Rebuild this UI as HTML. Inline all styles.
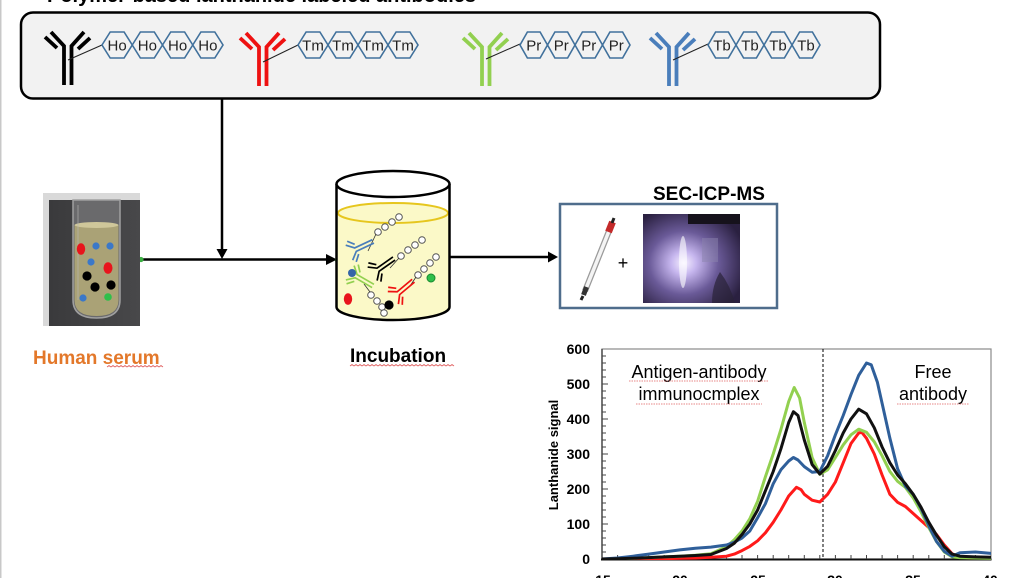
<!DOCTYPE html>
<html>
<head>
<meta charset="utf-8">
<style>
  html,body{margin:0;padding:0;background:#fff;}
  body{width:1028px;height:578px;overflow:hidden;}
  svg{display:block;}
</style>
</head>
<body>
<svg width="1028" height="578" viewBox="0 0 1028 578" xmlns="http://www.w3.org/2000/svg" font-family="'Liberation Sans', Arial, sans-serif">
  <defs>
    <radialGradient id="glow" cx="0.42" cy="0.55" r="0.65">
      <stop offset="0" stop-color="#f6f0ff"/>
      <stop offset="0.2" stop-color="#c6b6ee"/>
      <stop offset="0.55" stop-color="#6a5a98"/>
      <stop offset="1" stop-color="#2a2040"/>
    </radialGradient>
    <linearGradient id="bgdark" x1="0" y1="0" x2="1" y2="0">
      <stop offset="0" stop-color="#3a3a3c"/>
      <stop offset="1" stop-color="#48484a"/>
    </linearGradient>
    <clipPath id="plotclip"><rect x="602" y="349" width="389" height="211"/></clipPath>
  </defs>

  <!-- left page edge -->
  <rect x="0" y="0" width="1.5" height="578" fill="#c8c8c8"/>

  <!-- title (cut off at top) -->
  <text x="47" y="2" font-size="20" font-weight="bold" fill="#000">Polymer-based lanthanide labeled antibodies</text>

  <!-- top rounded box -->
  <rect x="21" y="12.5" width="859" height="86" rx="12" ry="12" fill="#f2f2f2" stroke="#000" stroke-width="2.5"/>

  <!-- Black antibody + Ho chain -->
  <g stroke="#000" stroke-width="3.8" fill="none" transform="translate(45,30)">
    <polyline points="19,55 19,16 6,2"/>
    <polyline points="26.5,55 26.5,16 39,2"/>
    <line x1="0" y1="7" x2="12" y2="18"/>
    <line x1="45" y1="8" x2="33" y2="19"/>
  </g>
  <line x1="68" y1="60" x2="102" y2="45" stroke="#222" stroke-width="1"/>
  <g stroke="#41719c" stroke-width="1.6" fill="#f2f2f2">
    <polygon points="102,45 110.2,32 124.1,32 132.25,45 124.1,58 110.2,58"/>
    <polygon points="132.25,45 140.4,32 154.3,32 162.5,45 154.3,58 140.4,58"/>
    <polygon points="162.5,45 170.7,32 184.6,32 192.75,45 184.6,58 170.7,58"/>
    <polygon points="192.75,45 200.9,32 214.8,32 223,45 214.8,58 200.9,58"/>
  </g>
  <g font-size="15" fill="#222" text-anchor="middle">
    <text x="117.1" y="50.5">Ho</text><text x="147.4" y="50.5">Ho</text><text x="177.6" y="50.5">Ho</text><text x="207.9" y="50.5">Ho</text>
  </g>

  <!-- Red antibody + Tm chain -->
  <g stroke="#ee1111" stroke-width="3.8" fill="none" transform="translate(240,31)">
    <polyline points="19,55 19,16 6,2"/>
    <polyline points="26.5,55 26.5,16 39,2"/>
    <line x1="0" y1="7" x2="12" y2="18"/>
    <line x1="45" y1="8" x2="33" y2="19"/>
  </g>
  <line x1="263" y1="62" x2="298" y2="45" stroke="#222" stroke-width="1"/>
  <g stroke="#41719c" stroke-width="1.6" fill="#f2f2f2">
    <polygon points="298,45 306.1,32 319.9,32 328,45 319.9,58 306.1,58"/>
    <polygon points="328,45 336.1,32 349.9,32 358,45 349.9,58 336.1,58"/>
    <polygon points="358,45 366.1,32 379.9,32 388,45 379.9,58 366.1,58"/>
    <polygon points="388,45 396.1,32 409.9,32 418,45 409.9,58 396.1,58"/>
  </g>
  <g font-size="15" fill="#222" text-anchor="middle">
    <text x="313" y="50.5">Tm</text><text x="343" y="50.5">Tm</text><text x="373" y="50.5">Tm</text><text x="403" y="50.5">Tm</text>
  </g>

  <!-- Green antibody + Pr chain -->
  <g stroke="#92d050" stroke-width="3.8" fill="none" transform="translate(463,31)">
    <polyline points="19,55 19,16 6,2"/>
    <polyline points="26.5,55 26.5,16 39,2"/>
    <line x1="0" y1="7" x2="12" y2="18"/>
    <line x1="45" y1="8" x2="33" y2="19"/>
  </g>
  <line x1="486" y1="59" x2="520" y2="44" stroke="#222" stroke-width="1"/>
  <g stroke="#41719c" stroke-width="1.6" fill="#f2f2f2">
    <polygon points="520,45 527.4,32 540.1,32 547.5,45 540.1,58 527.4,58"/>
    <polygon points="547.5,45 554.9,32 567.6,32 575,45 567.6,58 554.9,58"/>
    <polygon points="575,45 582.4,32 595.1,32 602.5,45 595.1,58 582.4,58"/>
    <polygon points="602.5,45 609.9,32 622.6,32 630,45 622.6,58 609.9,58"/>
  </g>
  <g font-size="15" fill="#222" text-anchor="middle">
    <text x="533.75" y="50.5">Pr</text><text x="561.25" y="50.5">Pr</text><text x="588.75" y="50.5">Pr</text><text x="616.25" y="50.5">Pr</text>
  </g>

  <!-- Blue antibody + Tb chain -->
  <g stroke="#4a7ebb" stroke-width="3.8" fill="none" transform="translate(650,31)">
    <polyline points="19,55 19,16 6,2"/>
    <polyline points="26.5,55 26.5,16 39,2"/>
    <line x1="0" y1="7" x2="12" y2="18"/>
    <line x1="45" y1="8" x2="33" y2="19"/>
  </g>
  <line x1="673" y1="60" x2="708" y2="44" stroke="#222" stroke-width="1"/>
  <g stroke="#41719c" stroke-width="1.6" fill="#f2f2f2">
    <polygon points="708,45 715.6,32 728.4,32 736,45 728.4,58 715.6,58"/>
    <polygon points="736,45 743.6,32 756.4,32 764,45 756.4,58 743.6,58"/>
    <polygon points="764,45 771.6,32 784.4,32 792,45 784.4,58 771.6,58"/>
    <polygon points="792,45 799.6,32 812.4,32 820,45 812.4,58 799.6,58"/>
  </g>
  <g font-size="15" fill="#222" text-anchor="middle">
    <text x="722" y="50.5">Tb</text><text x="750" y="50.5">Tb</text><text x="778" y="50.5">Tb</text><text x="806" y="50.5">Tb</text>
  </g>

  <!-- Arrows -->
  <line x1="222" y1="99" x2="222" y2="251" stroke="#000" stroke-width="2.5"/>
  <polygon points="216.5,249 227.5,249 222,259" fill="#000"/>
  <line x1="140" y1="259.5" x2="328" y2="259.5" stroke="#000" stroke-width="2.5"/>
  <polygon points="326,254 326,265 337,259.5" fill="#000"/>
  <circle cx="141" cy="259.5" r="2.6" fill="#3cb043"/>
  <circle cx="337.5" cy="260" r="2.6" fill="#3cb043"/>
  <line x1="450" y1="257" x2="550" y2="257" stroke="#000" stroke-width="2.5"/>
  <polygon points="548,251.5 548,262.5 558,257" fill="#000"/>

  <!-- Tube photo -->
  <rect x="43" y="193" width="97" height="133" fill="#d9d9d9"/>
  <rect x="49" y="200" width="91" height="126" fill="url(#bgdark)"/>
  <path d="M73,200 L73,300 Q73,318 96.5,318 Q120,318 120,300 L120,200 Z" fill="#6a6a6c" stroke="#a0a0a0" stroke-width="1.5"/>
  <path d="M74.5,225 L74.5,300 Q74.5,316 96.5,316 Q118.5,316 118.5,300 L118.5,225 Z" fill="#aaa276"/>
  <ellipse cx="96.5" cy="225" rx="22" ry="3" fill="#cfc79a"/>
  <line x1="78" y1="205" x2="78" y2="300" stroke="#b8b8b8" stroke-width="1" opacity="0.6"/>
  <ellipse cx="81" cy="249" rx="4.2" ry="5.8" fill="#e8141c"/>
  <circle cx="96" cy="246" r="3.6" fill="#3b78c8"/>
  <circle cx="110" cy="246" r="3.6" fill="#3b78c8"/>
  <circle cx="91" cy="262" r="3.6" fill="#3b78c8"/>
  <ellipse cx="108" cy="268" rx="4.5" ry="5.8" fill="#e8141c"/>
  <circle cx="87" cy="276" r="4.6" fill="#000"/>
  <circle cx="95" cy="287" r="4.6" fill="#000"/>
  <circle cx="111" cy="285" r="4.6" fill="#000"/>
  <circle cx="83" cy="298" r="3.6" fill="#3b78c8"/>
  <circle cx="108" cy="297" r="3.8" fill="#2fbf4a"/>

  <text x="33" y="364" font-size="19" font-weight="bold" fill="#e3782a">Human serum</text>
  <path d="M107,367 l2,-1.5 l2,1.5 l2,-1.5 l2,1.5 l2,-1.5 l2,1.5 l2,-1.5 l2,1.5 l2,-1.5 l2,1.5 l2,-1.5 l2,1.5 l2,-1.5 l2,1.5 l2,-1.5 l2,1.5 l2,-1.5 l2,1.5 l2,-1.5 l2,1.5 l2,-1.5 l2,1.5 l2,-1.5 l2,1.5 l2,-1.5 l2,1.5 l2,-1.5 l2,1.5" fill="none" stroke="#e06060" stroke-width="0.8"/>

  <!-- Beaker -->
  <path d="M336.5,213 L336.5,307 A56.5,13 0 0 0 449.5,307 L449.5,213 Z" fill="#fbf9c8"/>
  <ellipse cx="393" cy="213" rx="55" ry="10" fill="#fbf9c8" stroke="#e6c61e" stroke-width="2"/>
  <path d="M336.5,184 L336.5,307 A56.5,13 0 0 0 449.5,307 L449.5,184" fill="none" stroke="#000" stroke-width="2.5"/>
  <ellipse cx="393" cy="184" rx="56.5" ry="13" fill="#fff" stroke="#000" stroke-width="2.5"/>

  <!-- beaker contents -->
  <g fill="#fff" stroke="#555" stroke-width="1">
    <circle cx="378" cy="232" r="3.3"/><circle cx="385" cy="227" r="3.3"/><circle cx="392" cy="222" r="3.3"/><circle cx="399" cy="217" r="3.3"/>
    <circle cx="401" cy="256" r="3.3"/><circle cx="408" cy="250" r="3.3"/><circle cx="415" cy="245" r="3.3"/><circle cx="422" cy="240" r="3.3"/>
    <circle cx="371" cy="295" r="3.3"/><circle cx="377" cy="301" r="3.3"/><circle cx="382" cy="307" r="3.3"/><circle cx="384" cy="313" r="3.3"/>
    <circle cx="418" cy="275" r="3.3"/><circle cx="424" cy="269" r="3.3"/><circle cx="430" cy="263" r="3.3"/><circle cx="436" cy="257" r="3.3"/>
  </g>
  <g stroke="#333" stroke-width="0.8">
    <line x1="368" y1="251" x2="376" y2="234"/>
    <line x1="390" y1="268" x2="399" y2="258"/>
    <line x1="364" y1="284" x2="370" y2="292"/>
    <line x1="410" y1="286" x2="416" y2="277"/>
  </g>
  <g stroke="#4a7ebb" stroke-width="3.4" fill="none" transform="translate(362,247) rotate(-115) scale(0.5) translate(-22,-30)">
    <polyline points="19,55 19,16 6,2"/><polyline points="26.5,55 26.5,16 39,2"/>
    <line x1="0" y1="7" x2="12" y2="18"/><line x1="45" y1="8" x2="33" y2="19"/>
  </g>
  <g stroke="#000" stroke-width="3.4" fill="none" transform="translate(384,266) rotate(-125) scale(0.5) translate(-22,-30)">
    <polyline points="19,55 19,16 6,2"/><polyline points="26.5,55 26.5,16 39,2"/>
    <line x1="0" y1="7" x2="12" y2="18"/><line x1="45" y1="8" x2="33" y2="19"/>
  </g>
  <g stroke="#92d050" stroke-width="3.4" fill="none" transform="translate(362,280) rotate(-60) scale(0.5) translate(-22,-30)">
    <polyline points="19,55 19,16 6,2"/><polyline points="26.5,55 26.5,16 39,2"/>
    <line x1="0" y1="7" x2="12" y2="18"/><line x1="45" y1="8" x2="33" y2="19"/>
  </g>
  <g stroke="#ee1111" stroke-width="3.4" fill="none" transform="translate(404,289) rotate(-130) scale(0.5) translate(-22,-30)">
    <polyline points="19,55 19,16 6,2"/><polyline points="26.5,55 26.5,16 39,2"/>
    <line x1="0" y1="7" x2="12" y2="18"/><line x1="45" y1="8" x2="33" y2="19"/>
  </g>
  <circle cx="352" cy="273" r="4" fill="#3566a8"/>
  <ellipse cx="348" cy="299" rx="4.2" ry="5.8" fill="#e8141c"/>
  <circle cx="389" cy="305" r="4.6" fill="#000"/>
  <circle cx="431" cy="278" r="4" fill="#2fbf4a" stroke="#1a8a30" stroke-width="1"/>

  <text x="350" y="362" font-size="19" font-weight="bold" fill="#000">Incubation</text>
  <path d="M350,366 l2,-1.5 l2,1.5 l2,-1.5 l2,1.5 l2,-1.5 l2,1.5 l2,-1.5 l2,1.5 l2,-1.5 l2,1.5 l2,-1.5 l2,1.5 l2,-1.5 l2,1.5 l2,-1.5 l2,1.5 l2,-1.5 l2,1.5 l2,-1.5 l2,1.5 l2,-1.5 l2,1.5 l2,-1.5 l2,1.5 l2,-1.5 l2,1.5 l2,-1.5 l2,1.5 l2,-1.5 l2,1.5 l2,-1.5 l2,1.5 l2,-1.5 l2,1.5 l2,-1.5 l2,1.5 l2,-1.5 l2,1.5 l2,-1.5 l2,1.5 l2,-1.5 l2,1.5 l2,-1.5 l2,1.5 l2,-1.5 l2,1.5 l2,-1.5 l2,1.5 l2,-1.5 l2,1.5 l2,-1.5 l2,1.5" fill="none" stroke="#e06060" stroke-width="0.8"/>

  <!-- SEC-ICP-MS -->
  <text x="653" y="200" font-size="19" font-weight="bold" fill="#000">SEC-ICP-MS</text>
  <rect x="560" y="204" width="217" height="104" fill="#fff" stroke="#4f6d8c" stroke-width="2.5"/>
  <!-- column -->
  <line x1="585" y1="291" x2="611" y2="226" stroke="#9a9a9a" stroke-width="6"/>
  <line x1="585" y1="291" x2="611" y2="226" stroke="#f4f4f4" stroke-width="3.5"/>
  <line x1="608.5" y1="232" x2="612.5" y2="222" stroke="#c42a2a" stroke-width="7"/>
  <line x1="612" y1="223" x2="614" y2="218" stroke="#222" stroke-width="3"/>
  <line x1="586.5" y1="287" x2="583.5" y2="295" stroke="#333" stroke-width="5"/>
  <line x1="583" y1="296" x2="581" y2="300" stroke="#222" stroke-width="3"/>
  <text x="623" y="269" font-size="18" fill="#000" text-anchor="middle">+</text>
  <!-- ICP photo -->
  <rect x="643" y="214" width="97" height="89" fill="url(#glow)"/>
  <rect x="688" y="214" width="52" height="10" fill="#16121c"/>
  <rect x="702" y="238" width="16" height="24" fill="#8c84ad" opacity="0.5"/>
  <ellipse cx="683" cy="262" rx="4" ry="26" fill="#ffffff" opacity="0.6"/>
  <path d="M720,272 Q730,285 735,303 L712,303 Q712,285 720,272 Z" fill="#2a2238" opacity="0.7"/>

  <!-- Chart -->
  <rect x="602" y="349" width="389" height="210" fill="#fff" stroke="#8a8a8a" stroke-width="1.2"/>
  <line x1="602" y1="349" x2="602" y2="559.5" stroke="#444" stroke-width="1.4"/>
  <line x1="601" y1="559.5" x2="991.5" y2="559.5" stroke="#111" stroke-width="2"/>
  <path d="M602 552h4M602 545h4M602 538h4M602 531h4M602 524h6M602 517h4M602 510h4M602 503h4M602 496h4M602 489h6M602 482h4M602 475h4M602 468h4M602 461h4M602 454h6M602 447h4M602 440h4M602 433h4M602 426h4M602 419h6M602 412h4M602 405h4M602 398h4M602 391h4M602 384h6M602 377h4M602 370h4M602 363h4M602 356h4" stroke="#444" stroke-width="1"/>
  <path d="M617.6 559v-4M633.1 559v-4M648.7 559v-4M664.2 559v-4M679.8 559v-4M695.4 559v-4M710.9 559v-4M726.5 559v-4M742 559v-4M757.6 559v-4M773.2 559v-4M788.7 559v-4M804.3 559v-4M819.8 559v-4M835.4 559v-4M851 559v-4M866.5 559v-4M882.1 559v-4M897.6 559v-4M913.2 559v-4M928.8 559v-4M944.3 559v-4M959.9 559v-4M975.4 559v-4" stroke="#444" stroke-width="1"/>
  <line x1="823" y1="349" x2="823" y2="559" stroke="#000" stroke-width="1" stroke-dasharray="3,2"/>

  <g clip-path="url(#plotclip)" fill="none" stroke-width="3" stroke-linejoin="round" stroke-linecap="round">
    <polyline stroke="#ff1a1a" points="602,559 633.1,559 664.2,558.7 679.8,558.3 695.4,558 710.9,557.3 726.5,556.2 734.3,554.1 742,550.6 749.8,546.4 757.6,540.8 765.4,532.8 773.2,522.3 780.9,510 788.7,496 796.5,487.3 801.1,489.7 804.3,494.3 812.1,500.2 819.8,502 827.6,494.3 835.4,482 843.2,462.8 851,443.5 858.7,433 861.8,432.3 866.5,438.3 874.3,454 882.1,475 889.9,494.3 897.6,502.3 905.4,506.5 913.2,513.5 921,520.5 928.8,527.5 936.5,534.5 944.3,545 952.1,553.8 959.9,557.3 975.4,558 991,558"/>
    <polyline stroke="#92d050" points="602,559 617.6,559 633.1,558.3 648.7,557.6 664.2,556.9 679.8,556.2 695.4,555.2 710.9,553.8 726.5,546.8 734.3,539.8 742,531 749.8,518.8 757.6,501.3 765.4,476.8 773.2,454 780.9,429.5 788.7,401.5 794.2,387.5 799.6,398 804.3,422.5 812.1,457.5 819.8,474.3 827.6,469.8 835.4,457.5 843.2,444.9 851,434.8 858.7,429.2 866.5,432.3 874.3,441.8 882.1,455.8 889.9,471.5 897.6,481.3 905.4,487.3 913.2,497.8 921,511.8 928.8,527.5 936.5,541.5 944.3,552 952.1,556.9 959.9,557.6 975.4,558 991,558.3"/>
    <polyline stroke="#2f5f9a" points="602,559 617.6,558 633.1,556.2 648.7,554.1 664.2,552 679.8,549.9 695.4,548.2 710.9,547.1 726.5,545 734.3,542.2 742,538 749.8,531 757.6,517.7 765.4,503.7 773.2,483.8 780.9,469.8 788.7,461 793.4,457.5 798,460 804.3,466.6 812.1,472.2 819.8,471.5 827.6,455.8 835.4,434.8 843.2,415.5 851,394.5 858.7,375.3 866.5,363 871.2,364.8 877.4,382.3 882.1,403.3 889.9,438.3 897.6,468.7 905.4,486.2 913.2,494.3 921,508.3 928.8,525.8 936.5,541.5 944.3,551.3 952.1,556.2 959.9,552.7 975.4,552 991,553.4"/>
    <polyline stroke="#111" points="602,559 617.6,558.7 633.1,558.3 648.7,557.6 664.2,556.9 679.8,556.2 695.4,555.5 710.9,554.5 726.5,548.5 734.3,543.3 742,534.5 749.8,524 757.6,510 765.4,490.8 773.2,471.5 780.9,448.8 788.7,422.5 793.4,411.7 798,415.5 804.3,440 812.1,464.5 819.8,474 827.6,466.3 835.4,450.5 843.2,433 851,419 858.7,409.2 866.5,413.8 874.3,427.8 882.1,447 889.9,462.8 897.6,475 905.4,483.8 913.2,494.3 921,507.2 928.8,522.3 936.5,535.2 944.3,546.8 952.1,554.1 959.9,556.2 975.4,556.9 991,557.3"/>
  </g>

  <!-- axis labels -->
  <g font-size="14" font-weight="bold" fill="#000" text-anchor="end">
    <text x="590" y="354">600</text>
    <text x="590" y="389">500</text>
    <text x="590" y="424">400</text>
    <text x="590" y="459">300</text>
    <text x="590" y="494">200</text>
    <text x="590" y="529">100</text>
    <text x="590" y="564">0</text>
  </g>
  <g font-size="14" font-weight="bold" fill="#000" text-anchor="middle">
    <text x="603" y="585">15</text>
    <text x="680" y="585">20</text>
    <text x="758" y="585">25</text>
    <text x="835" y="585">30</text>
    <text x="913" y="585">35</text>
    <text x="990" y="585">40</text>
  </g>
  <text transform="translate(558,455) rotate(-90)" font-size="13" font-weight="bold" text-anchor="middle" fill="#000">Lanthanide  signal</text>

  <!-- annotations -->
  <g font-size="18" fill="#000" text-anchor="middle">
    <text x="699" y="378">Antigen-antibody</text>
    <text x="699" y="400">immunocmplex</text>
    <text x="933" y="378">Free</text>
    <text x="933" y="400">antibody</text>
  </g>
  <g fill="none" stroke="#e06060" stroke-width="0.8" stroke-dasharray="1.5,1">
    <line x1="629" y1="381" x2="769" y2="381"/>
    <line x1="636" y1="404" x2="762" y2="404"/>
    <line x1="897" y1="404" x2="969" y2="404"/>
  </g>
</svg>
</body>
</html>
